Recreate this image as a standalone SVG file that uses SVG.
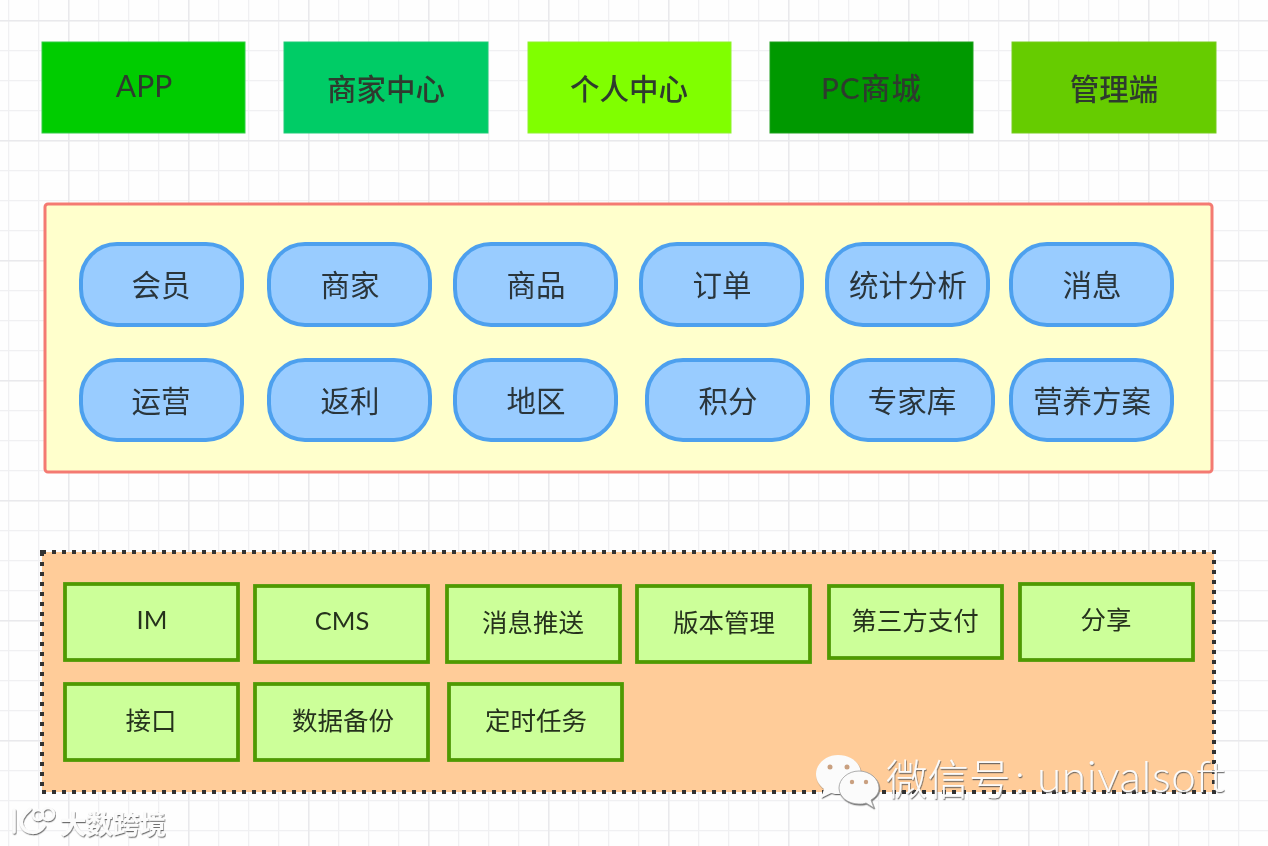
<svg xmlns="http://www.w3.org/2000/svg" width="1268" height="846" viewBox="0 0 1268 846">
<defs>
<pattern id="minor" x="8" y="20" width="30" height="30" patternUnits="userSpaceOnUse"><path d="M0.5 0V30M0 0.5H30" fill="none" stroke="#f0f0f2" stroke-width="1.5"/></pattern>
<pattern id="major" x="68" y="20" width="120" height="120" patternUnits="userSpaceOnUse"><path d="M0.5 0V120M0 0.5H120" fill="none" stroke="#e9e9ec" stroke-width="2"/></pattern>
<filter id="bevel" x="-5%" y="-10%" width="110%" height="125%"><feDropShadow dx="0.7" dy="1.2" stdDeviation="0.5" flood-color="#555" flood-opacity="0.85"/></filter>
<filter id="soft" x="-2%" y="-2%" width="104%" height="104%"><feGaussianBlur stdDeviation="0.5"/></filter>
</defs>
<style>
text{font-family:"Lato","Noto Sans CJK SC",sans-serif;text-anchor:middle;fill:#2f3a2f}
.top rect{stroke-width:1}
.top text{font-size:29.5px;font-weight:500}
.top text.lat{font-weight:400;font-size:30px}
.pill rect{fill:#99ccff;stroke:#4da0ee;stroke-width:4}
.pill text{font-size:29.5px;font-weight:400;fill:#2a353b}
.svc rect{fill:#ccff99;stroke:#4f9a05;stroke-width:3.8}
.svc text{font-size:25.5px;font-weight:400;fill:#26331f}
.wm{fill:#fbfbfb;text-anchor:start;filter:url(#bevel)}
</style>
<rect width="1268" height="846" fill="#fefefe"/>
<g filter="url(#soft)"><rect width="1268" height="846" fill="url(#minor)"/><rect width="1268" height="846" fill="url(#major)"/></g>
<g id="connectors"/>
<g class="top" filter="url(#soft)">
<g id="n-app"><rect x="42" y="42" width="203" height="91" fill="#00cc00" stroke="#33cc44"/><text class="lat" x="144" y="97">APP</text></g>
<g id="n-merchant"><rect x="284" y="42" width="204" height="91" fill="#00cc66" stroke="#22cc77"/><text x="386" y="100">商家中心</text></g>
<g id="n-personal"><rect x="528" y="42" width="203" height="91" fill="#80ff00" stroke="#90f030"/><text x="629" y="100">个人中心</text></g>
<g id="n-pc"><rect x="770" y="42" width="203" height="91" fill="#009900" stroke="#22a022"/><text x="871" y="99" textLength="100">PC商城</text></g>
<g id="n-admin"><rect x="1012" y="42" width="204" height="91" fill="#66cc00" stroke="#77cc22"/><text x="1114" y="100">管理端</text></g>
</g>
<g id="business" filter="url(#soft)">
<rect x="45" y="204" width="1167" height="268" rx="3" fill="#ffffcc" stroke="#f47a72" stroke-width="3"/>
<g class="pill" id="p1"><rect x="81" y="244" width="161" height="81" rx="36"/><text x="161" y="296">会员</text></g>
<g class="pill" id="p2"><rect x="269" y="244" width="161" height="81" rx="36"/><text x="350" y="296">商家</text></g>
<g class="pill" id="p3"><rect x="455" y="244" width="161" height="81" rx="36"/><text x="536" y="296">商品</text></g>
<g class="pill" id="p4"><rect x="641" y="244" width="161" height="81" rx="36"/><text x="722" y="296">订单</text></g>
<g class="pill" id="p5"><rect x="827" y="244" width="161" height="81" rx="36"/><text x="908" y="296">统计分析</text></g>
<g class="pill" id="p6"><rect x="1011" y="244" width="161" height="81" rx="36"/><text x="1092" y="296">消息</text></g>
<g class="pill" id="p7"><rect x="81" y="360" width="161" height="80" rx="36"/><text x="161" y="412">运营</text></g>
<g class="pill" id="p8"><rect x="269" y="360" width="161" height="80" rx="36"/><text x="350" y="412">返利</text></g>
<g class="pill" id="p9"><rect x="455" y="360" width="161" height="80" rx="36"/><text x="536" y="412">地区</text></g>
<g class="pill" id="p10"><rect x="647" y="360" width="161" height="80" rx="36"/><text x="728" y="412">积分</text></g>
<g class="pill" id="p11"><rect x="832" y="360" width="161" height="80" rx="36"/><text x="912" y="412">专家库</text></g>
<g class="pill" id="p12"><rect x="1011" y="360" width="161" height="80" rx="36"/><text x="1092" y="412">营养方案</text></g>
</g>
<g id="infra" filter="url(#soft)">
<rect x="42" y="552" width="1172" height="240" fill="#ffcc99" stroke="#333" stroke-width="4" stroke-dasharray="4 6"/>
<g class="svc" id="s1"><rect x="65" y="584" width="173" height="76"/><text x="152" y="629">IM</text></g>
<g class="svc" id="s2"><rect x="255" y="586" width="173" height="76"/><text x="342" y="630">CMS</text></g>
<g class="svc" id="s3"><rect x="447" y="586" width="173" height="76"/><text x="533" y="632">消息推送</text></g>
<g class="svc" id="s4"><rect x="637" y="586" width="173" height="76"/><text x="724" y="632">版本管理</text></g>
<g class="svc" id="s5"><rect x="829" y="586" width="173" height="72"/><text x="915" y="630">第三方支付</text></g>
<g class="svc" id="s6"><rect x="1020" y="584" width="173" height="76"/><text x="1106" y="629">分享</text></g>
<g class="svc" id="s7"><rect x="65" y="684" width="173" height="76"/><text x="151" y="730">接口</text></g>
<g class="svc" id="s8"><rect x="255" y="684" width="173" height="76"/><text x="343" y="730">数据备份</text></g>
<g class="svc" id="s9"><rect x="449" y="684" width="173" height="76"/><text x="536" y="730">定时任务</text></g>
</g>
<g id="watermark-wechat">
<g filter="url(#bevel)">
<path d="M838 755c-12 0-22 9-22 19 0 6 3 11 8 15l-3 9 10-5c3 1 5 1 8 1 12 0 22-9 22-20s-10-19-23-19z" fill="#fbfbfb"/>
<path d="M859 771c-11 0-20 8-20 17s9 16 20 16c2 0 5 0 7-1l8 5-3-8c5-3 8-7 8-12 0-9-9-17-20-17z" fill="#fbfbfb" stroke="#999" stroke-width="0.8"/>
</g>
<circle cx="830" cy="767" r="2.5" fill="#c9a080"/><circle cx="847" cy="767" r="2.5" fill="#c9a080"/>
<circle cx="852" cy="782" r="2.2" fill="#c9a080"/><circle cx="866" cy="782" r="2.2" fill="#c9a080"/>
<text class="wm" x="886" y="795" font-size="41.5" style="font-weight:300">微信号</text>
<text class="wm" x="1015" y="793" font-size="40" style="font-weight:300">:</text>
<text class="wm" x="1037" y="792" font-size="44" textLength="188" style="font-weight:300">univalsoft</text>
</g>
<g id="watermark-brand">
<g filter="url(#bevel)" fill="none" stroke="#fbfbfb" stroke-width="3.5" stroke-linecap="round">
<path d="M14 810V832M30 809C22 816 20 822 22 826C26 834 38 835 44 826"/>
<circle cx="38" cy="815" r="5" stroke-width="2.5"/><circle cx="48" cy="814" r="6" stroke-width="2.5"/>
</g>
<text class="wm" x="60" y="834" font-size="26.5" style="font-weight:700">大数跨境</text>
</g>
</svg>
